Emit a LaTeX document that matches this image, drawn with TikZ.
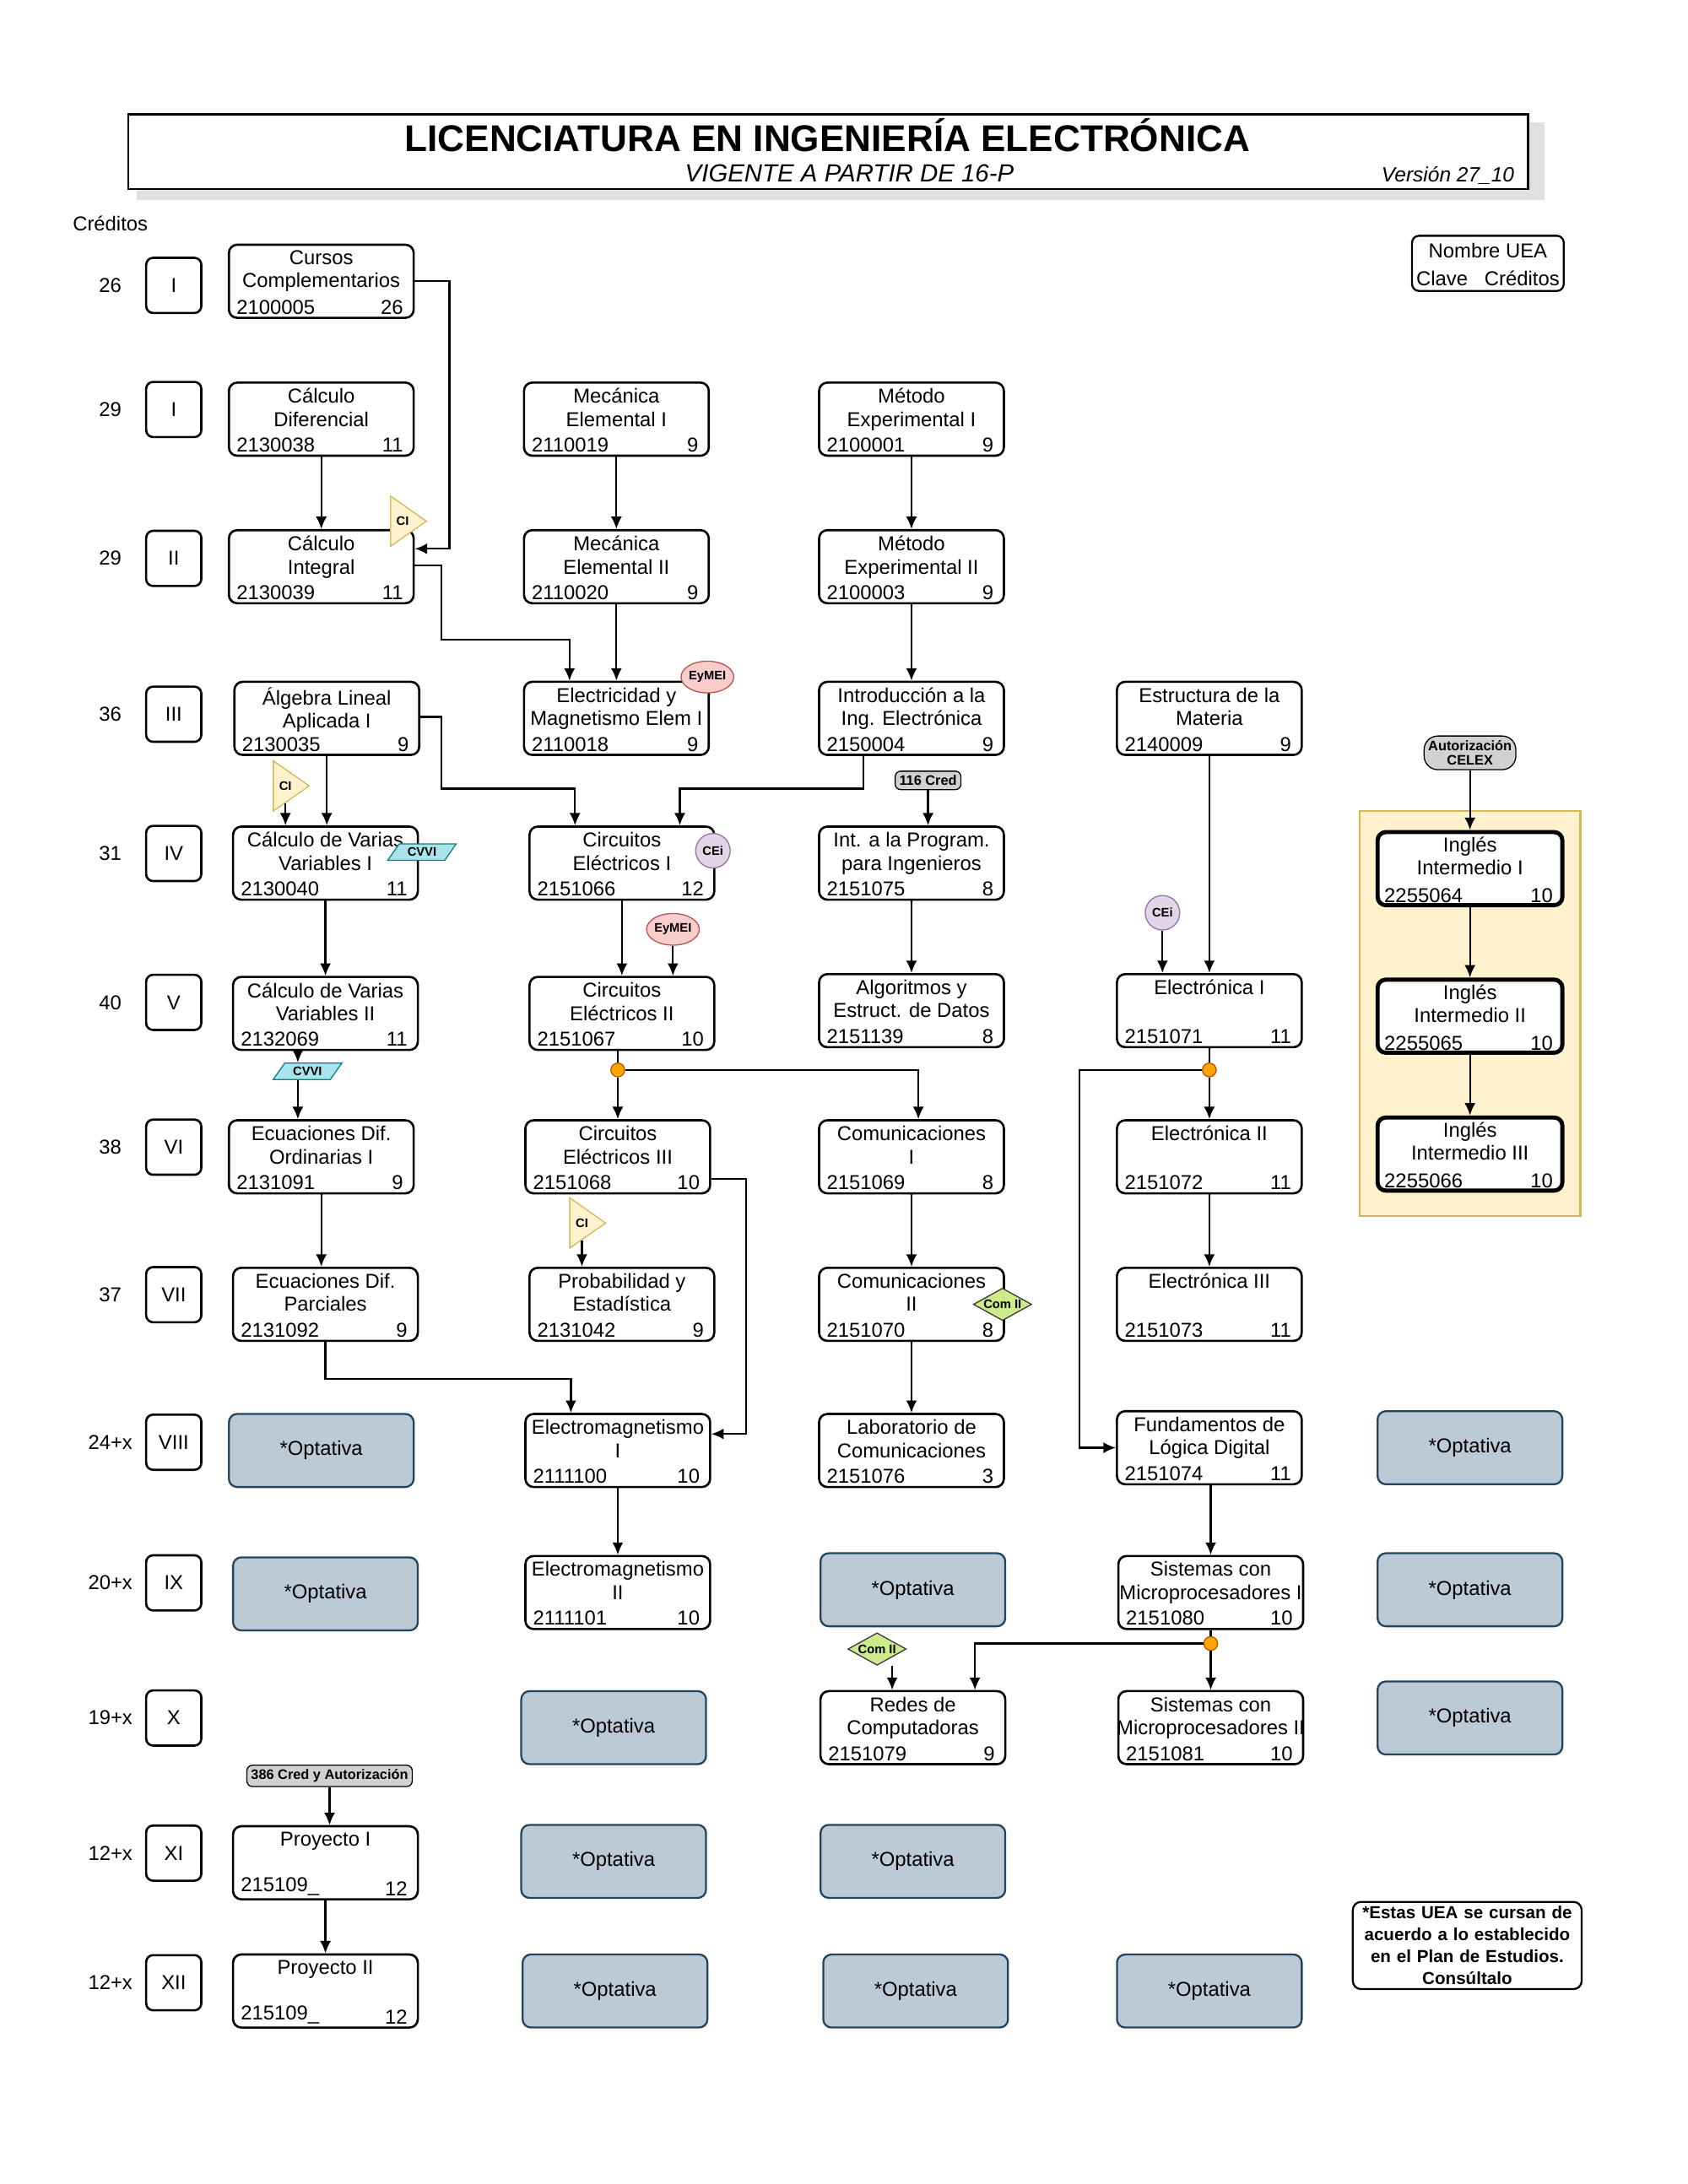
\documentclass[tikz,border=0pt]{standalone}
\usepackage{fontspec}
\setmainfont{Liberation Sans}
\usetikzlibrary{shapes.geometric,arrows.meta}
\definecolor{opt}{HTML}{BCCAD6}
\definecolor{optd}{HTML}{23445D}
\definecolor{yel}{HTML}{FFF2CC}
\definecolor{yeld}{HTML}{D6B656}
\definecolor{pk}{HTML}{F8CECC}
\definecolor{pkd}{HTML}{B85450}
\definecolor{pu}{HTML}{E1D5E7}
\definecolor{pud}{HTML}{9673A6}
\definecolor{cy}{HTML}{A9E4EA}
\definecolor{cyd}{HTML}{0E8088}
\definecolor{gr}{HTML}{CDEB8B}
\definecolor{grd}{HTML}{36393D}
\definecolor{org}{HTML}{FFA500}
\tikzset{
 f/.style={font=\fontsize{7.3}{8.4}\selectfont},
 uea/.style={draw,line width=0.8pt,rounded corners=3pt,minimum width=67pt,minimum height=26.5pt,inner sep=0pt},
 ing/.style={line width=1.5pt},
 optv/.style={draw=optd,fill=opt,line width=0.7pt,rounded corners=3pt,minimum width=67pt,minimum height=26.5pt,f},
 rom/.style={draw,line width=0.8pt,rounded corners=2.5pt,minimum width=20pt,minimum height=20pt,f},
 arr/.style={-{Latex[length=4.5pt,width=4pt]},line width=0.7pt},
 ci/.style={isosceles triangle,isosceles triangle apex angle=70,fill=yel,draw=yeld,minimum height=13pt,inner sep=0.5pt,font=\bfseries\fontsize{4.5}{5}\selectfont},
 ey/.style={ellipse,fill=pk,draw=pkd,minimum width=19pt,minimum height=11.5pt,inner sep=0pt,font=\bfseries\fontsize{4.5}{5}\selectfont},
 cei/.style={circle,fill=pu,draw=pud,minimum size=12.5pt,inner sep=0pt,font=\bfseries\fontsize{4.5}{5}\selectfont},
 cvvi/.style={trapezium,trapezium left angle=55,trapezium right angle=125,fill=cy,draw=cyd,minimum width=18pt,minimum height=6pt,inner sep=0.5pt,font=\bfseries\fontsize{4.5}{5}\selectfont},
 comii/.style={diamond,aspect=1.8,fill=gr,draw=grd,inner sep=0.3pt,font=\bfseries\fontsize{4.5}{5}\selectfont},
 lab/.style={draw,fill=black!18,rounded corners=2pt,inner sep=1.5pt,font=\bfseries\fontsize{5}{6}\selectfont},
 dot/.style={circle,fill=org,draw=orange!70!black,minimum size=5pt,inner sep=0pt},
}
\newcommand\uea[6][]{%
 \node[uea,#1] (#2) at (#3) {};
 \node[f,anchor=north,align=center,inner sep=0.5pt,yshift=-1.8pt] at (#2.north) {#4};
 \node[f,anchor=south west,inner sep=1pt,xshift=2pt,yshift=0.5pt] at (#2.south west) {#5};
 \node[f,anchor=south east,inner sep=1pt,xshift=-3pt,yshift=0.5pt] at (#2.south east) {#6};}
\begin{document}
\begin{tikzpicture}[x=0.5pt,y=-0.5pt]
\useasboundingbox (0,0) rectangle (1224,1584);
% title
\fill[black!12] (99,89) rectangle (1120,145);
\node[draw,fill=white,line width=0.8pt,minimum width=507.5pt,minimum height=27pt,inner sep=0] (tb) at (600.5,110) {};
\node[font=\bfseries\fontsize{13.5}{15}\selectfont] (t1) at (600,98) {LICENCIATURA EN INGENIERÍA ELECTRÓNICA};
\node[font=\itshape\fontsize{9}{10}\selectfont] (t2) at (616,126) {VIGENTE A PARTIR DE 16-P};
\node[font=\itshape\fontsize{7.5}{9}\selectfont] (t3) at (1050,127) {Versión 27\_10};
\node[f] (cr) at (80,162) {Créditos};
% legend
\node[draw,rounded corners=2.5pt,minimum width=55pt,minimum height=20pt,line width=0.7pt] (leg) at (1079,191) {};
\node[f] at (1079,182) {Nombre UEA};
\node[f] at (1079,202) {Clave \ \ Créditos};
% rows
\foreach \c/\r/\y [count=\i] in {26/I/207,29/I/297,29/II/405,36/III/518,31/IV/619,40/V/727,38/VI/832,37/VII/939,24+x/VIII/1046,20+x/IX/1148,19+x/X/1246,12+x/XI/1344,12+x/XII/1438}{
 \node[f] (c\i) at (80,\y) {\c};
 \node[rom] (r\i) at (126,\y) {\r};}
% english panel
\draw[fill=yel,draw=yeld,line width=0.7pt] (986,588) rectangle (1146,882);
% courses
\uea{cc}{233,204}{Cursos\\Complementarios}{2100005}{26}
\uea{cdif}{233,304}{Cálculo\\Diferencial}{2130038}{11}
\uea{mec1}{447,304}{Mecánica\\Elemental I}{2110019}{9}
\uea{met1}{661,304}{Método\\Experimental I}{2100001}{9}
\uea{cint}{233,411}{Cálculo\\Integral}{2130039}{11}
\uea{mec2}{447,411}{Mecánica\\Elemental II}{2110020}{9}
\uea{met2}{661,411}{Método\\Experimental II}{2100003}{9}
\uea{alg}{237,521}{Álgebra Lineal\\Aplicada I}{2130035}{9}
\uea{elec}{447,521}{Electricidad y\\Magnetismo Elem I}{2110018}{9}
\uea{intro}{661,521}{Introducción a la\\Ing. Electrónica}{2150004}{9}
\uea{estr}{877,521}{Estructura de la\\Materia}{2140009}{9}
\uea{cv1}{236,626}{Cálculo de Varias\\Variables I}{2130040}{11}
\uea{ci1}{451,626}{Circuitos\\Eléctricos I}{2151066}{12}
\uea{prog}{661,626}{Int. a la Program.\\para Ingenieros}{2151075}{8}
\uea{cv2}{236,735}{Cálculo de Varias\\Variables II}{2132069}{11}
\uea{ci2}{451,735}{Circuitos\\Eléctricos II}{2151067}{10}
\uea{algo}{661,733}{Algoritmos y\\Estruct. de Datos}{2151139}{8}
\uea{el1}{877,733}{Electrónica I}{2151071}{11}
\uea{ed1}{233,839}{Ecuaciones Dif.\\Ordinarias I}{2131091}{9}
\uea{ci3}{448,839}{Circuitos\\Eléctricos III}{2151068}{10}
\uea{com1}{661,839}{Comunicaciones\\I}{2151069}{8}
\uea{el2}{877,839}{Electrónica II}{2151072}{11}
\uea{ed2}{236,946}{Ecuaciones Dif.\\Parciales}{2131092}{9}
\uea{prob}{451,946}{Probabilidad y\\Estadística}{2131042}{9}
\uea{com2}{661,946}{Comunicaciones\\II}{2151070}{8}
\uea{el3}{877,946}{Electrónica III}{2151073}{11}
\uea{em1}{448,1052}{Electromagnetismo\\I}{2111100}{10}
\uea{lab}{661,1052}{Laboratorio de\\Comunicaciones}{2151076}{3}
\uea{fund}{877,1050}{Fundamentos de\\Lógica Digital}{2151074}{11}
\uea{em2}{448,1155}{Electromagnetismo\\II}{2111101}{10}
\uea{smi}{878,1155}{Sistemas con\\Microprocesadores I}{2151080}{10}
\uea{redes}{662,1253}{Redes de\\Computadoras}{2151079}{9}
\uea{smii}{878,1253}{Sistemas con\\Microprocesadores II}{2151081}{10}
\uea{p1}{236,1351}{Proyecto I}{215109\_}{12}
\uea{p2}{236,1444}{Proyecto II}{215109\_}{12}
\uea[ing,fill=white]{ing1}{1066,630}{Inglés\\Intermedio I}{2255064}{10}
\uea[ing,fill=white]{ing2}{1066,737}{Inglés\\Intermedio II}{2255065}{10}
\uea[ing,fill=white]{ing3}{1066,837}{Inglés\\Intermedio III}{2255066}{10}
% optativas
\foreach \p [count=\i] in {{233,1052},{1066,1050},{236,1156},{662,1153},{1066,1153},{445,1253},{1066,1246},{445,1350},{662,1350},{446,1444},{664,1444},{877,1444}}
 \node[optv] (o\i) at (\p) {*Optativa};
% note
\node[draw,rounded corners=3pt,line width=0.7pt,align=center,font=\bfseries\fontsize{6.3}{8}\selectfont,inner sep=1.5pt,text width=80pt] (note) at (1064,1411) {*Estas UEA se cursan de\\acuerdo a lo establecido\\en el Plan de Estudios.\\Consúltalo};
% markers
\node[ci] (ci_a) at (292,378) {CI};
\node[ci] (ci_b) at (207,570) {CI};
\node[ci] (ci_c) at (422,887) {CI};
\node[ey] (ey_a) at (513,491) {EyMEI};
\node[ey] (ey_b) at (488,674) {EyMEI};
\node[cei] (ce_a) at (517,617) {CEi};
\node[cei] (ce_b) at (843,662) {CEi};
\node[cvvi] (cv_a) at (306,618) {CVVI};
\node[cvvi] (cv_b) at (223,777) {CVVI};
\node[comii] (cm_a) at (727,946) {Com II};
\node[comii] (cm_b) at (636,1196) {Com II};
\node[lab] (l116) at (673,566) {116 Cred};
\node[lab] (l386) at (239,1288) {386 Cred y Autorización};
\node[lab,rounded corners=5pt,align=center,font=\bfseries\fontsize{5}{5.5}\selectfont] (lcel) at (1066,546) {Autorización\\CELEX};
\node[dot] (d1) at (448,776) {};
\node[dot] (d2) at (877,776) {};
\node[dot] (d3) at (878,1192) {};
% connectors
\draw[arr] (cc.east) -| (326,398) -- (cint.east |- 326,398);
\draw[arr] (cdif) -- (cint);
\draw[arr] (cint.east |- 0,410) -| (320,464) -| (elec.north -| 413,0);
\draw[arr] (mec1) -- (mec2);
\draw[arr] (mec2) -- (elec);
\draw[arr] (met1) -- (met2);
\draw[arr] (met2) -- (intro);
\draw[arr] (alg.east |- 0,520) -| (320,572) -| (ci1.north -| 417,0);
\draw[arr] (intro.south -| 626,0) |- (493,572) -- (ci1.north -| 493,0);
\draw[arr] (alg.south) -- (cv1.north -| alg.south);
\draw[arr] (ci_b.south) -- (cv1.north -| ci_b.south);
\draw[arr] (l116) -- (prog.north -| l116);
\draw[arr] (cv1) -- (cv2);
\draw[arr] (cv2.south -| 216,0) -- (cv_b.north -| 216,0);
\draw[arr] (cv_b.south -| 216,0) -- (ed1.north -| 216,0);
\draw[arr] (ci1) -- (ci2.north -| ci1.south);
\draw[arr] (ey_b) -- (ci2.north -| ey_b);
\draw[arr] (prog) -- (algo);
\draw[arr] (estr) -- (el1.north -| estr.south);
\draw[arr] (ce_b) -- (el1.north -| ce_b);
\draw[line width=0.7pt] (ci2.south -| d1) -- (d1);
\draw[arr] (d1) -- (ci3.north -| d1);
\draw[arr] (d1) -| (com1.north -| 666,0);
\draw[line width=0.7pt] (el1.south -| d2) -- (d2);
\draw[arr] (d2) -- (el2);
\draw[arr] (d2) -| (783,1050) -- (fund.west);
\draw[arr] (ed1) -- (ed2.north -| ed1.south);
\draw[arr] (ci3.east |- 0,855) -| (541,1040) -- (em1.east |- 0,1040);
\draw[arr] (ci_c.south) -- (prob.north -| ci_c.south);
\draw[arr] (com1) -- (com2);
\draw[arr] (com2) -- (lab);
\draw[arr] (el2) -- (el3);
\draw[arr] (ed2.south) |- (414,1000) -- (em1.north -| 414,0);
\draw[arr] (em1) -- (em2);
\draw[arr] (fund.south -| smi.north) -- (smi);
\draw[line width=0.7pt] (smi.south -| d3) -- (d3);
\draw[arr] (d3) -- (smii);
\draw[arr] (d3) -| (redes.north -| 707,0);
\draw[arr] (cm_b.south -| 647,0) -- (redes.north -| 647,0);
\draw[arr] (l386) -- (p1.north -| l386);
\draw[arr] (p1) -- (p2);
\draw[arr] (lcel) -- (ing1);
\draw[arr] (ing1) -- (ing2);
\draw[arr] (ing2) -- (ing3);
\end{tikzpicture}
\end{document}
